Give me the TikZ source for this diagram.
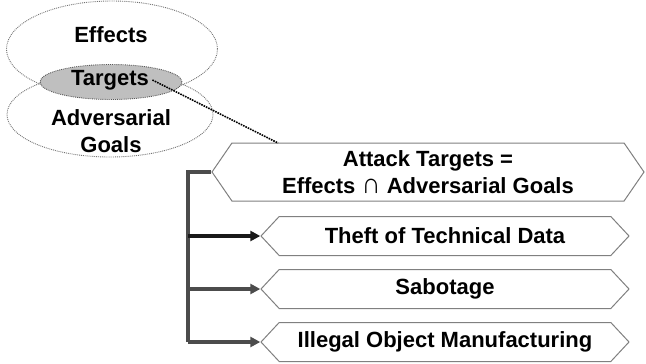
\documentclass[tikz,border=0pt]{standalone}
\usepackage{fontspec}
\setmainfont{Liberation Sans}
\usepackage{tikz}
\usetikzlibrary{shapes.geometric,shapes.symbols,arrows.meta}

\begin{document}
\begin{tikzpicture}[x=1pt,y=-1pt,
		font=\fontsize{22}{27}\selectfont\bfseries]
		\tikzstyle{set}=[ellipse,draw=black!55,densely dotted,line width=0.9pt,inner sep=0pt]
		\tikzstyle{goal}=[signal,signal to=west and east,draw=black!50,line width=1pt,
		inner sep=0pt,align=center,fill=white]
		\tikzstyle{branch}=[line width=3.2pt,draw=black!70,-{Triangle[length=10pt,width=10pt]}]
		\useasboundingbox (0,0) rectangle (646,364);
		
		\node[set,minimum width=211,minimum height=96] (effects) at (112,49) {};
		\node[set,minimum width=206,minimum height=85] (adv) at (110,114.5) {};
		\node[set,draw=black!65,fill=black!25,minimum width=142,minimum height=35] (tgt) at (111,82) {};
		
		\node (effectstxt) at (111,35) {Effects};
		\node (tgttxt) at (110,80) {Targets};
		\node[align=center] (advtxt) at (111,131) {Adversarial\\Goals};
		
		\node[goal,minimum width=432,minimum height=58,signal pointer angle=111] (top) at (428,172)
		{Attack Targets =\\Effects \scalebox{1.2}[1.3]{\char"2229} Adversarial Goals};
		\node[goal,minimum width=368,minimum height=39,signal pointer angle=94] (theft) at (445,236)
		{Theft of Technical Data};
		\node[goal,minimum width=368,minimum height=39,signal pointer angle=94] (sab) at (445,289)
		{Sabotage};
		\node[goal,minimum width=368,minimum height=39,signal pointer angle=94] (illegal) at (445,342)
		{Illegal Object Manufacturing};
		
		\coordinate (hook) at (278,143);
		\coordinate (spine) at (188,172);
		
		\draw[densely dotted,line width=1.6pt] (tgttxt.east) -- (hook);
		
		\draw[line width=3.2pt,draw=black!70] (top.west) -- (spine) -- (spine |- illegal.west);
		\draw[branch,draw=black!90] (spine |- theft.west) -- (theft.west);
		\draw[branch] (spine |- sab.west) -- (sab.west);
		\draw[branch] (spine |- illegal.west) -- (illegal.west);
\end{tikzpicture}
\end{document}
